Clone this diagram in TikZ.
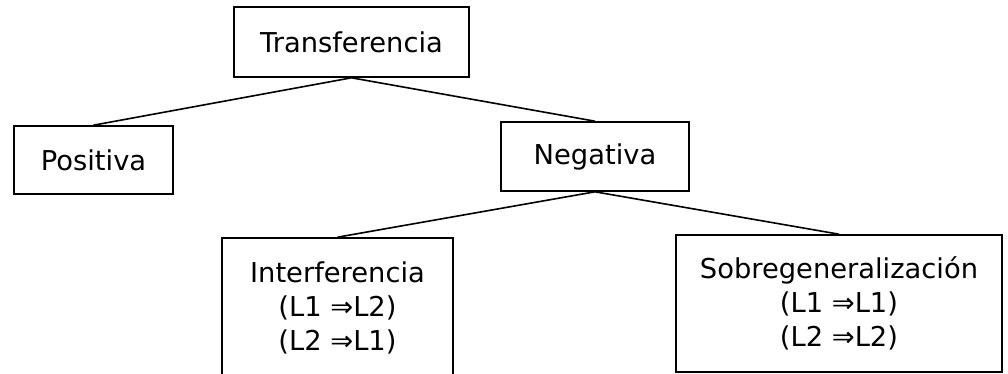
\documentclass[tikz,border=0pt]{standalone}
\usepackage{fontspec}
\setmainfont{DejaVu Sans}
\begin{document}
\begin{tikzpicture}[x = 0.75pt, y = -0.75pt,
    box/.style = {draw, line width = 1.2pt, align = center, inner sep = 0pt,
        font = \fontsize{20.5}{25.5}\selectfont},
    link/.style = {line width = 1.2pt}]
    \useasboundingbox (0, 0) rectangle (1008, 374);
    \node [box, minimum width = 176.25pt, minimum height = 52.5pt] (trans) at (351.5, 42) {Transferencia};
    \node [box, minimum width = 119.25pt, minimum height = 51pt] (posit) at (93.5, 160) {Positiva};
    \node [box, minimum width = 141pt, minimum height = 51.75pt] (negat) at (595, 156.5) {Negativa};
    \node [box, minimum width = 173.25pt, minimum height = 104.25pt] (inter) at (337.5, 307.5)
        {Interferencia\\(L1 ⇒L2)\\(L2 ⇒L1)};
    \node [box, minimum width = 244.5pt, minimum height = 102.75pt] (sobre) at (839, 303.5)
        {Sobregeneralización\\(L1 ⇒L1)\\(L2 ⇒L2)};
    \draw [link] (trans.south) -- (posit.north);
    \draw [link] (trans.south) -- (negat.north);
    \draw [link] (negat.south) -- (inter.north);
    \draw [link] (negat.south) -- (sobre.north);
\end{tikzpicture}
\end{document}
